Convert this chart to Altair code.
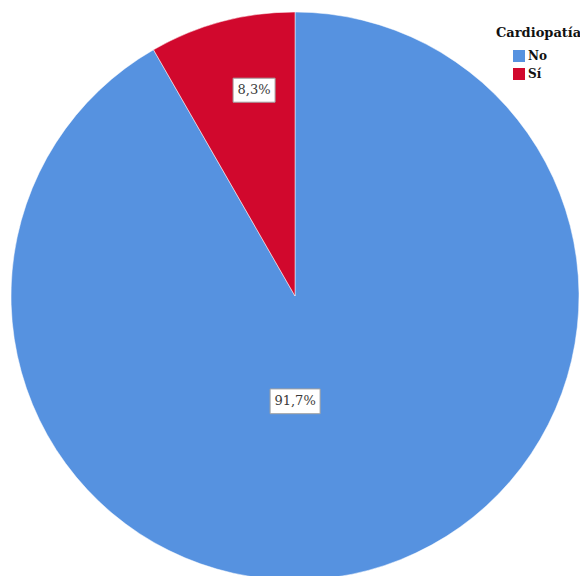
import altair as alt
import pandas as pd

categories = ["No", "Sí"]
values = [91.7, 8.3]
labels = ["91,7%", "8,3%"]
colors = ["#5692E0", "#D1082D"]

df = pd.DataFrame({"cat": categories, "val": values, "lab": labels, "ord": [0, 1]})

CX, CY, R = 287, 288, 284

base = alt.Chart(df)

pie = base.mark_arc(outerRadius=R, stroke="#ffffff", strokeWidth=0.5).encode(
    theta=alt.Theta("val:Q", stack=True),
    order=alt.Order("ord:Q"),
    color=alt.Color(
        "cat:N",
        scale=alt.Scale(domain=categories, range=colors),
        sort=categories,
        legend=alt.Legend(
            title="Cardiopatía",
            orient="none",
            legendX=488,
            legendY=19,
            titleFont="DejaVu Serif",
            titleFontSize=13,
            titleFontWeight="bold",
            titleColor="#111111",
            labelFont="DejaVu Serif",
            labelFontSize=12,
            labelFontWeight="bold",
            labelColor="#111111",
            symbolType="square",
            symbolSize=144,
            symbolStrokeWidth=0,
            symbolOffset=17,
            labelOffset=3,
            rowPadding=6,
            titlePadding=10,
            offset=0,
            padding=0,
        ),
    ),
    x=alt.value(CX),
    y=alt.value(CY),
)

pos = (
    base.transform_joinaggregate(total="sum(val)")
    .transform_window(cum="sum(val)", sort=[alt.SortField("ord")])
    .transform_calculate(mid="(datum.cum - datum.val/2) / datum.total * 2 * PI")
    .transform_calculate(
        rr="datum.cat == 'No' ? 109 : 213",
        shift="datum.cat == 'No' ? -28 : 14",
    )
    .transform_calculate(
        px=f"{CX} + datum.rr * sin(datum.mid) + datum.shift",
        py=f"{CY} - datum.rr * cos(datum.mid)",
    )
)

enc = dict(x=alt.X("px:Q", scale=None), y=alt.Y("py:Q", scale=None))

box_no = pos.transform_filter("datum.cat == 'No'").mark_point(
    shape="M-1.25,-0.62H1.25V0.62H-1.25Z",
    size=1600,
    filled=True,
    fill="#ffffff",
    stroke="#a0a0a0",
    strokeWidth=1,
    opacity=1,
).encode(**enc)

box_si = pos.transform_filter("datum.cat == 'Sí'").mark_point(
    shape="M-1.05,-0.6H1.05V0.6H-1.05Z",
    size=1600,
    filled=True,
    fill="#ffffff",
    stroke="#a0a0a0",
    strokeWidth=1,
    opacity=1,
).encode(**enc)

texts = pos.mark_text(
    font="DejaVu Serif", fontSize=13, color="#3a3a3a", baseline="middle", align="center"
).encode(text="lab:N", **enc)

chart = (
    alt.layer(pie, box_no, box_si, texts)
    .properties(width=572, height=568, autosize=alt.AutoSizeParams(type="none"), padding=0)
    .configure_view(strokeOpacity=0, strokeWidth=0, fillOpacity=0)
)

chart.save("out.html", embed_options={"renderer": "svg", "actions": False})
